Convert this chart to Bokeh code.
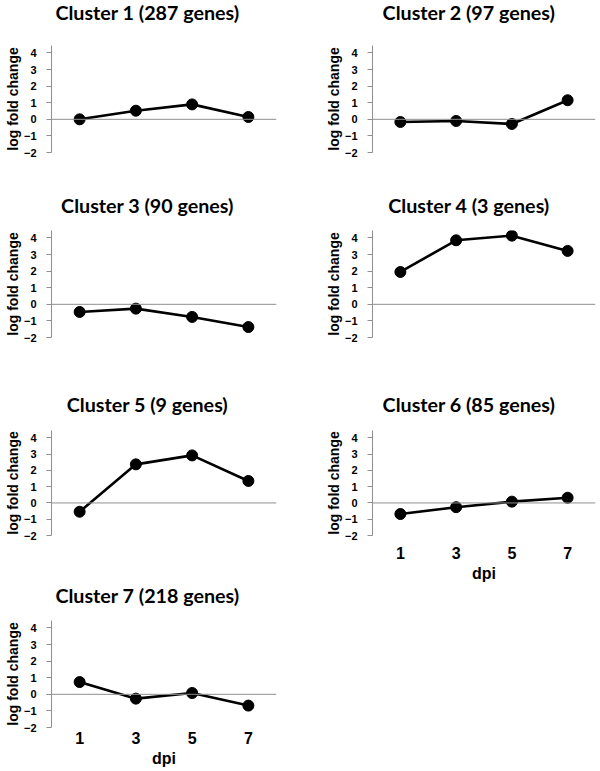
from bokeh.plotting import figure
from bokeh.layouts import column, row
from bokeh.models import Range1d, FixedTicker, Span, Spacer, ColumnDataSource
from bokeh.core.properties import value
from bokeh.embed import file_html
from bokeh.resources import INLINE

# ---- data ----
dpi = ["1", "3", "5", "7"]
cluster_titles = [
    "Cluster 1 (287 genes)", "Cluster 2 (97 genes)", "Cluster 3 (90 genes)",
    "Cluster 4 (3 genes)", "Cluster 5 (9 genes)", "Cluster 6 (85 genes)",
    "Cluster 7 (218 genes)",
]
c1 = [0.0, 0.52, 0.9, 0.14]
c2 = [-0.16, -0.1, -0.28, 1.15]
c3 = [-0.46, -0.26, -0.76, -1.37]
c4 = [1.95, 3.86, 4.14, 3.22]
c5 = [-0.54, 2.37, 2.92, 1.35]
c6 = [-0.68, -0.26, 0.08, 0.32]
c7 = [0.74, -0.26, 0.08, -0.68]
series = [c1, c2, c3, c4, c5, c6, c7]
y_ticks = [-2, -1, 0, 1, 2, 3, 4]

# ---- style ----
GRAY = "#8f8f8f"
TITLE_FONT = "Lato"
AX_FONT = "Liberation Sans"
# title strip per row: (height, text centre measured from strip top)
TITLE_ROWS = [(30, 12), (30, 14.5), (30, 12), (28, 10.5)]
# panel per row: (fig height, min_border_top, min_border_bottom)
ROWS = [(160, 15, 38), (172, 10, 55), (162, 8, 47), (158, 8, 43)]
# column: (width, min_border_left, min_border_right, title centre from column left)
COLS = [(321, 51, 45, 147), (275, 51, 1, 147.5)]
show_x = [False, False, False, False, False, True, True]
x_label_standoff = [0, 0, 0, 0, 0, 11, 4]
x_title_standoff = [0, 0, 0, 0, 0, 3, 3]


def make_title(i):
    r, c = divmod(i, 2)
    th, tcy = TITLE_ROWS[r]
    w, _, _, tcx = COLS[c]
    t = figure(width=w, height=th, x_range=Range1d(0, w), y_range=Range1d(0, th),
               x_axis_type=None, y_axis_type=None, toolbar_location=None,
               output_backend="svg", min_border=0)
    t.outline_line_color = None
    t.grid.visible = False
    t.background_fill_color = None
    t.border_fill_color = None
    t.text(x=[tcx], y=[th - tcy], text=[cluster_titles[i]],
           text_font=value(TITLE_FONT), text_font_size="19.7px",
           text_font_style="bold", text_color="black",
           text_align="center", text_baseline="middle")
    return t


def make_panel(i):
    r, c = divmod(i, 2)
    h, bt, bb = ROWS[r]
    w, bl, br, _ = COLS[c]
    p = figure(x_range=dpi, y_range=Range1d(-2, 4.45), width=w, height=h,
               min_border_left=bl, min_border_right=br, min_border_top=bt,
               min_border_bottom=bb, toolbar_location=None,
               output_backend="svg")
    p.x_range.range_padding = 0
    p.outline_line_color = None
    p.grid.visible = False
    p.background_fill_color = None
    p.border_fill_color = None

    yax = p.yaxis[0]
    yax.ticker = FixedTicker(ticks=y_ticks)
    yax.axis_line_color = GRAY
    yax.major_tick_line_color = GRAY
    yax.major_tick_out = 5
    yax.major_tick_in = 0
    yax.minor_tick_line_color = None
    yax.major_label_text_font = AX_FONT
    yax.major_label_text_font_style = "bold"
    yax.major_label_text_font_size = "11px"
    yax.major_label_text_color = "black"
    yax.major_label_standoff = 10
    yax.axis_label = "log fold change"
    yax.axis_label_text_font = AX_FONT
    yax.axis_label_text_font_style = "bold"
    yax.axis_label_text_font_size = "14px"
    yax.axis_label_text_color = "black"
    yax.axis_label_standoff = 0

    xax = p.xaxis[0]
    if show_x[i]:
        xax.axis_line_color = None
        xax.major_tick_line_color = None
        xax.minor_tick_line_color = None
        xax.major_tick_out = 0
        xax.major_tick_in = 0
        xax.major_label_text_font = AX_FONT
        xax.major_label_text_font_style = "bold"
        xax.major_label_text_font_size = "16px"
        xax.major_label_text_color = "black"
        xax.major_label_standoff = x_label_standoff[i]
        xax.axis_label = "dpi"
        xax.axis_label_text_font = AX_FONT
        xax.axis_label_text_font_style = "bold"
        xax.axis_label_text_font_size = "16px"
        xax.axis_label_text_color = "black"
        xax.axis_label_standoff = x_title_standoff[i]
    else:
        xax.visible = False

    p.add_layout(Span(location=0, dimension="width", line_color=GRAY, line_width=1))
    src = ColumnDataSource(dict(x=dpi, y=series[i]))
    p.line("x", "y", source=src, line_color="black", line_width=2.6)
    p.scatter("x", "y", source=src, size=11, fill_color="black", line_color="black")
    return p


titles = [make_title(i) for i in range(7)]
panels = [make_panel(i) for i in range(7)]
rows = []
for r in range(4):
    i = 2 * r
    if i + 1 < 7:
        rows.append(row(titles[i], titles[i + 1]))
        rows.append(row(panels[i], panels[i + 1]))
    else:
        rows.append(row(titles[i], Spacer(width=COLS[1][0], height=TITLE_ROWS[r][0])))
        rows.append(row(panels[i], Spacer(width=COLS[1][0], height=ROWS[r][0])))
layout = column(*rows)

open("out.html", "w").write(file_html(layout, INLINE))
